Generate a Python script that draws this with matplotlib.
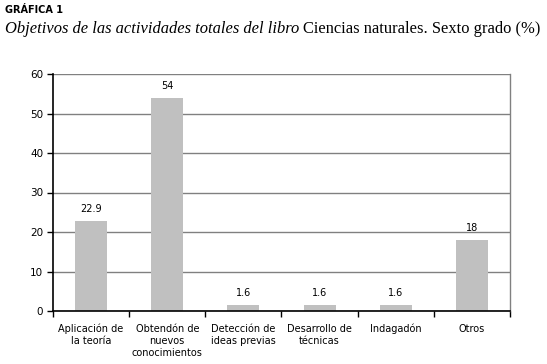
import matplotlib
matplotlib.use("Agg")
import matplotlib.pyplot as plt
import numpy as np

categories = ["Aplicación de\nla teoría", "Obtendón de\nnuevos\nconocimientos",
              "Detección de\nideas previas", "Desarrollo de\ntécnicas",
              "Indagadón", "Otros"]
values = [22.9, 54, 1.6, 1.6, 1.6, 18]
value_labels = ["22.9", "54", "1.6", "1.6", "1.6", "18"]
yticks = [0, 10, 20, 30, 40, 50, 60]

fig = plt.figure(figsize=(5.47, 3.64), dpi=100)
ax = fig.add_axes((53/547, 1 - 311/364, (510 - 53)/547, (311 - 74)/364))

x = np.arange(len(categories))
ax.bar(x, values, width=0.42, color="#c0c0c0", zorder=2)
for xi, v, lab in zip(x, values, value_labels):
    ax.annotate(lab, (xi, v), xytext=(0, 5), textcoords="offset points",
                ha="center", va="bottom", fontsize=7, family="DejaVu Sans")

ax.set_xlim(-0.5, len(categories) - 0.5)
ax.set_ylim(0, 60)
ax.set_yticks(yticks)
ax.set_yticklabels([str(t) for t in yticks], fontsize=7.5)
ax.yaxis.grid(True, color="#808080", linewidth=1.0, zorder=0)
ax.set_axisbelow(True)

# category labels centred, ticks on the boundaries
ax.set_xticks(x)
ax.set_xticklabels(categories, fontsize=7, linespacing=1.25)
ax.tick_params(axis="x", length=0, pad=9)
ax.set_xticks(np.arange(len(categories) + 1) - 0.5, minor=True)
ax.tick_params(axis="x", which="minor", length=4, width=1, direction="out")
ax.tick_params(axis="y", length=4, width=1, direction="out", pad=3)

for side in ["left", "bottom"]:
    ax.spines[side].set_color("black")
    ax.spines[side].set_linewidth(1.2)
ax.spines["top"].set_visible(False)
ax.spines["right"].set_color("#808080")
ax.spines["right"].set_linewidth(1.0)

fig.text(5/547, 1 - 10/364, "GRÁFICA 1", fontsize=7, fontweight="bold",
         family="DejaVu Sans", va="center", ha="left")
t1 = fig.text(5/547, 1 - 33/364, "Objetivos de las actividades totales del libro",
              fontsize=11.9, style="italic", family="Liberation Serif",
              va="baseline", ha="left")
fig.canvas.draw()
bb = t1.get_window_extent()
fig.text(bb.x1 / fig.bbox.width + 4/547, 1 - 33/364,
         "Ciencias naturales. Sexto grado (%)", fontsize=11.9,
         family="Liberation Serif", va="baseline", ha="left")

fig.savefig("out.png", dpi=100)
